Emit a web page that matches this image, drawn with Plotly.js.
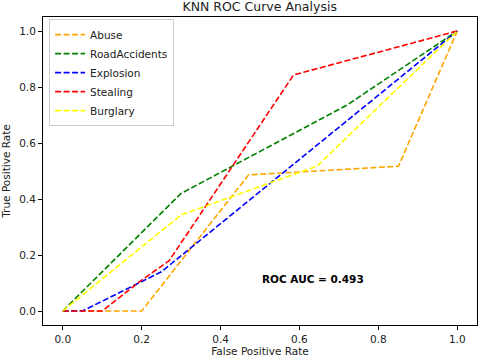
<!DOCTYPE html>
<html>
<head>
<meta charset="utf-8">
<script src="https://cdn.plot.ly/plotly-3.0.1.min.js"></script>
<style>
  html, body { margin: 0; padding: 0; background: #fff; }
  #chart { width: 480px; height: 359px; }
</style>
</head>
<body>
<div id="chart"></div>
<script>
// ROC curve points per class
const classNames = ['Abuse', 'RoadAccidents', 'Explosion', 'Stealing', 'Burglary'];
const classColors = ['orange', 'green', 'blue', 'red', 'yellow'];

const fprAbuse = [0, 0.2, 0.471, 0.851, 1];
const tprAbuse = [0, 0, 0.486, 0.517, 1];

const fprRoad = [0, 0.3, 0.72, 1];
const tprRoad = [0, 0.42, 0.735, 1];

const fprExplosion = [0, 0.05, 0.2, 0.25, 1];
const tprExplosion = [0, 0, 0.105, 0.14, 1];

const fprStealing = [0, 0.1, 0.2, 0.27, 0.585, 1];
const tprStealing = [0, 0, 0.11, 0.18, 0.843, 1];

const fprBurglary = [0, 0.3, 0.645, 1];
const tprBurglary = [0, 0.343, 0.518, 1];

const aucLabel = 'ROC AUC = 0.493';

const fprs = [fprAbuse, fprRoad, fprExplosion, fprStealing, fprBurglary];
const tprs = [tprAbuse, tprRoad, tprExplosion, tprStealing, tprBurglary];

const traces = classNames.map((name, i) => ({
    x: fprs[i],
    y: tprs[i],
    type: 'scatter',
    mode: 'lines',
    name: name,
    line: { color: classColors[i], width: 1.6, dash: '6px,2.5px' }
}));

const axisStyle = {
    range: [-0.05, 1.05],
    showgrid: false,
    zeroline: false,
    showline: true,
    mirror: true,
    linecolor: '#000',
    linewidth: 1,
    ticks: 'outside',
    ticklen: 4,
    tickwidth: 1,
    tickcolor: '#000',
    tickvals: [0, 0.2, 0.4, 0.6, 0.8, 1.0],
    ticktext: ['0.0', '0.2', '0.4', '0.6', '0.8', '1.0'],
    tickfont: { size: 10.5, color: '#222' }
};

const layout = {
    width: 480,
    height: 359,
    margin: { l: 43, r: 3, t: 17, b: 34 },
    paper_bgcolor: '#fff',
    plot_bgcolor: '#fff',
    font: { family: 'DejaVu Sans, sans-serif', color: '#222' },
    title: {
        text: 'KNN ROC Curve Analysis',
        font: { size: 12.5, color: '#222' },
        x: 0.541,
        xanchor: 'center',
        y: 0.982,
        yanchor: 'middle'
    },
    xaxis: Object.assign({}, axisStyle, {
        title: { text: 'False Positive Rate', font: { size: 10.5 }, standoff: 4 }
    }),
    yaxis: Object.assign({}, axisStyle, {
        title: { text: 'True Positive Rate', font: { size: 10.5 }, standoff: 6 }
    }),
    legend: {
        x: 0.014,
        y: 0.993,
        xanchor: 'left',
        yanchor: 'top',
        bgcolor: 'rgba(255,255,255,0.8)',
        bordercolor: '#ccc',
        borderwidth: 1,
        font: { size: 10.5, color: '#222' },
        itemwidth: 30,
        tracegroupgap: 0
    },
    annotations: [{
        x: 0.5,
        y: 0.115,
        xref: 'x',
        yref: 'y',
        text: '<b>' + aucLabel + '</b>',
        showarrow: false,
        xanchor: 'left',
        yanchor: 'middle',
        font: { size: 10.5, color: '#000' }
    }],
    showlegend: true
};

Plotly.newPlot('chart', traces, layout, { displayModeBar: false, staticPlot: true });
</script>
</body>
</html>
